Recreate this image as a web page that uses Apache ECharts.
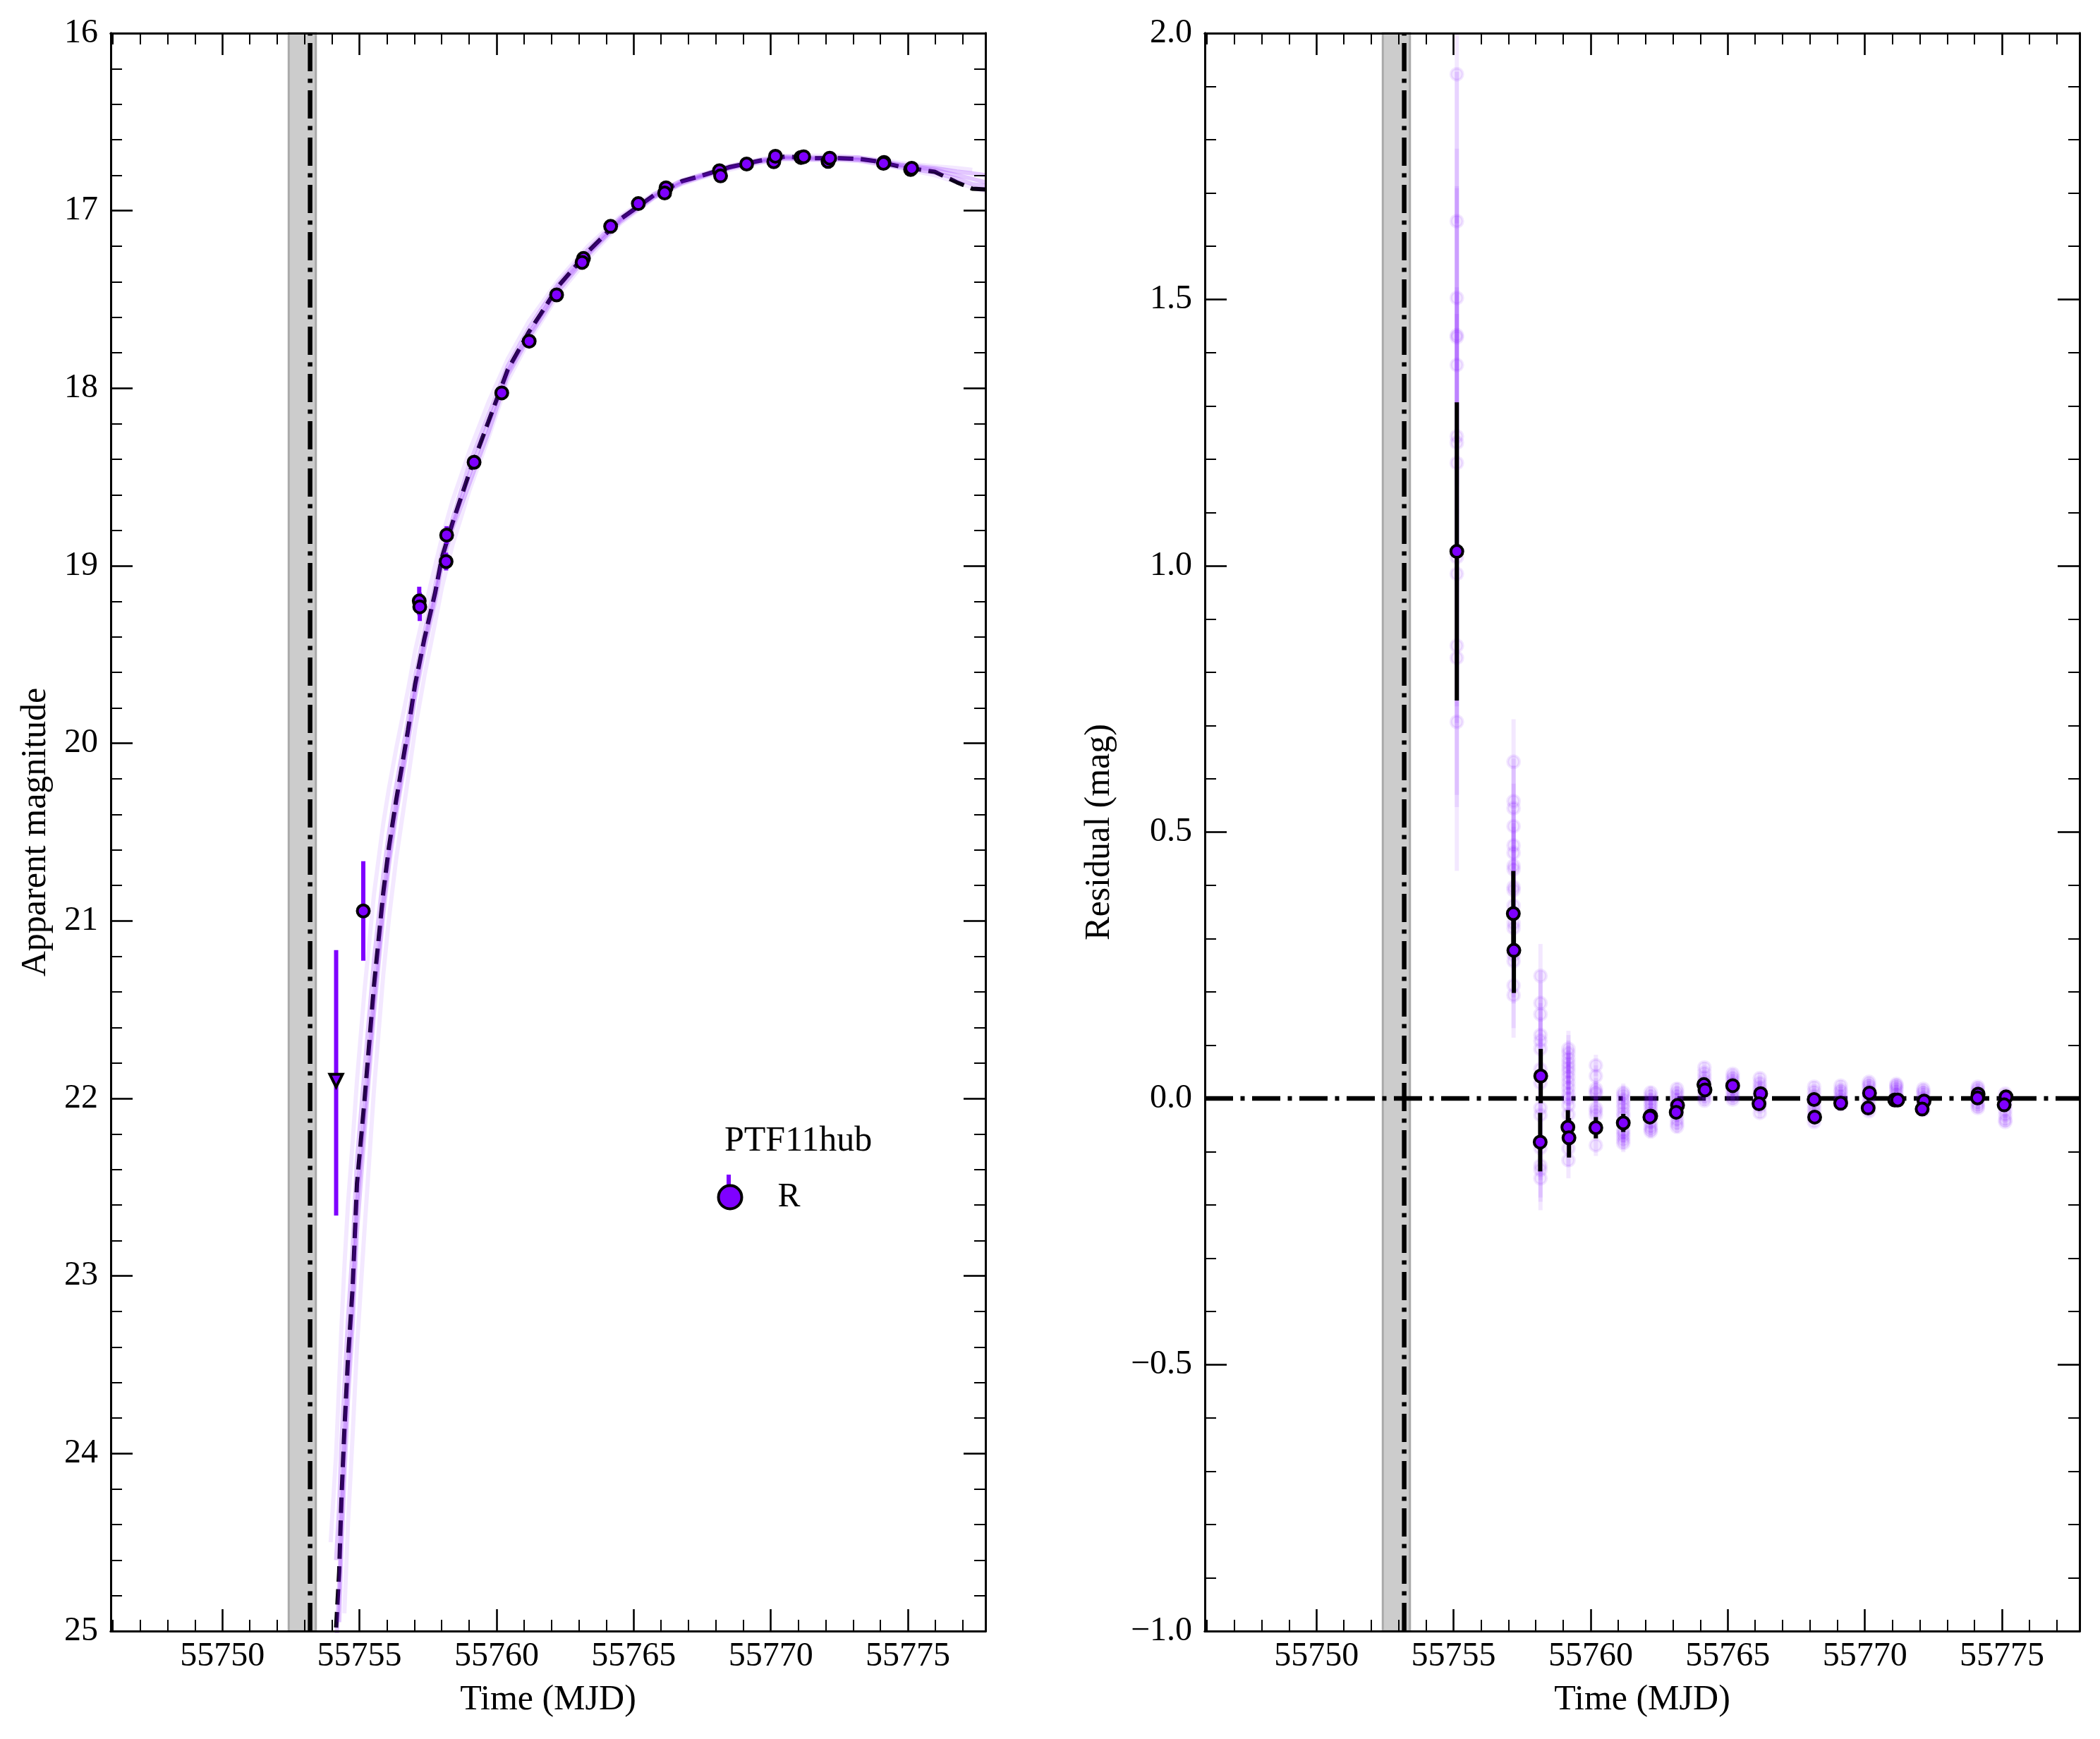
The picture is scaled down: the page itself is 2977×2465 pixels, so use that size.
<!DOCTYPE html>
<html>
<head>
<meta charset="utf-8">
<title>PTF11hub</title>
<script src="https://cdn.jsdelivr.net/npm/echarts@6/dist/echarts.min.js"></script>
<style>
  html, body { margin: 0; padding: 0; background: #fff; }
  #chart { width: 2977px; height: 2465px; }
</style>
</head>
<body>
<div id="chart"></div>
<script>
const xMajorTicks = [55750, 55755, 55760, 55765, 55770, 55775]
const xMinorTicks = [55746, 55747, 55748, 55749, 55751, 55752, 55753, 55754, 55756, 55757, 55758, 55759, 55761, 55762, 55763, 55764, 55766, 55767, 55768, 55769, 55771, 55772, 55773, 55774, 55776, 55777]
const magMajorTicks = [16, 17, 18, 19, 20, 21, 22, 23, 24, 25]
const magMinorTicks = [16.2, 16.4, 16.6, 16.8, 17.2, 17.4, 17.6, 17.8, 18.2, 18.4, 18.6, 18.8, 19.2, 19.4, 19.6, 19.8, 20.2, 20.4, 20.6, 20.8, 21.2, 21.4, 21.6, 21.8, 22.2, 22.4, 22.6, 22.8, 23.2, 23.4, 23.6, 23.8, 24.2, 24.4, 24.6, 24.8]
const resMajorTicks = [-1, -0.5, 0, 0.5, 1, 1.5, 2]
const resMinorTicks = [-0.9, -0.8, -0.7, -0.6, -0.4, -0.3, -0.2, -0.1, 0.1, 0.2, 0.3, 0.4, 0.6, 0.7, 0.8, 0.9, 1.1, 1.2, 1.3, 1.4, 1.6, 1.7, 1.8, 1.9]

const xMin = 55745.93
const xMax = 55777.83
const bandStart = 55752.42
const bandEnd = 55753.41
const explosionDay = 55753.2

// photometry: day, magnitude, error
const photDays = [55755.14, 55757.18, 55757.2, 55758.18, 55758.16, 55759.18, 55760.19, 55761.19, 55762.19, 55763.17, 55763.12, 55764.16, 55765.17, 55766.18, 55766.13, 55768.13, 55768.17, 55769.12, 55770.11, 55770.17, 55771.1, 55771.2, 55772.09, 55772.15, 55774.13, 55774.11, 55775.1, 55775.14]
const photMags = [20.944, 19.198, 19.231, 18.827, 18.976, 18.417, 18.026, 17.735, 17.474, 17.269, 17.291, 17.088, 16.96, 16.871, 16.9, 16.775, 16.804, 16.737, 16.724, 16.693, 16.7, 16.696, 16.722, 16.704, 16.728, 16.733, 16.768, 16.761]
const photErrs = [0.28, 0.08, 0.08, 0.05, 0.05, 0.03, 0.02, 0.017, 0.012, 0.012, 0.012, 0.01, 0.01, 0.01, 0.01, 0.01, 0.01, 0.01, 0.01, 0.01, 0.01, 0.01, 0.01, 0.01, 0.01, 0.01, 0.01, 0.01]

// upper limit point
const limitDay = 55754.15
const limitMag = 21.9
const limitLow = 21.165
const limitHigh = 22.66

// residuals, same epochs as the first point on
const resDays = [55755.12, 55757.18, 55757.2, 55758.18, 55758.16, 55759.17, 55759.21, 55760.19, 55761.19, 55762.19, 55762.16, 55763.17, 55763.12, 55764.13, 55764.17, 55765.18, 55766.2, 55766.14, 55768.15, 55768.17, 55769.12, 55770.17, 55770.12, 55771.09, 55771.2, 55772.16, 55772.09, 55774.13, 55774.11, 55775.15, 55775.08]
const resValues = [1.027, 0.347, 0.278, 0.042, -0.082, -0.054, -0.074, -0.055, -0.046, -0.033, -0.035, -0.013, -0.026, 0.026, 0.016, 0.024, 0.009, -0.01, -0.002, -0.035, -0.009, 0.01, -0.018, -0.003, -0.003, -0.005, -0.02, 0.008, 0.001, 0.003, -0.012]
const resErrs = [0.28, 0.08, 0.08, 0.051, 0.055, 0.032, 0.037, 0.02, 0.017, 0.012, 0.012, 0.012, 0.012, 0.01, 0.01, 0.01, 0.01, 0.01, 0.01, 0.01, 0.01, 0.01, 0.01, 0.01, 0.01, 0.01, 0.01, 0.01, 0.01, 0.01, 0.01]

// residuals of the posterior samples, one row per epoch
const ghostDays = [55755.12, 55757.19, 55758.17, 55759.19, 55760.19, 55761.19, 55762.19, 55763.15, 55764.15, 55765.18, 55766.17, 55768.15, 55769.12, 55770.15, 55771.15, 55772.13, 55774.12, 55775.12]
const ghostErrs = [0.28, 0.08, 0.06, 0.034, 0.02, 0.017, 0.012, 0.012, 0.01, 0.01, 0.01, 0.01, 0.01, 0.01, 0.01, 0.01, 0.01, 0.01]
const ghostValues = [
  [1.923, 1.647, 1.503, 1.433, 1.429, 1.377, 1.243, 1.231, 1.193, 1.016, 0.985, 0.85, 0.827, 0.707],
  [0.632, 0.558, 0.545, 0.511, 0.475, 0.461, 0.437, 0.43, 0.397, 0.391, 0.362, 0.329, 0.32, 0.27, 0.258, 0.212, 0.194],
  [0.23, 0.179, 0.158, 0.119, 0.108, 0.093, 0.055, 0.029, -0.018, -0.031, -0.093, -0.126, -0.134, -0.15],
  [0.093, 0.085, 0.075, 0.066, 0.058, 0.05, 0.04, 0.03, 0.02, 0.009, 0, -0.013, -0.03, -0.094, -0.116],
  [0.062, 0.042, 0.018, 0.012, 0.009, -0.018, -0.024, -0.031, -0.088],
  [0.011, 0.006, -0.002, -0.01, -0.018, -0.027, -0.034, -0.06, -0.065, -0.071, -0.078, -0.084],
  [0.011, 0.005, -0.002, -0.008, -0.013, -0.02, -0.027, -0.034, -0.045, -0.053, -0.058, -0.062],
  [0.018, 0.011, 0.005, -0.002, -0.009, -0.015, -0.022, -0.03, -0.04, -0.047, -0.053],
  [0.058, 0.048, 0.04, 0.033, 0.026, 0.018, 0.009, 0.002, -0.004],
  [0.046, 0.04, 0.035, 0.029, 0.022, 0.016, 0.009, 0.003, -0.002],
  [0.038, 0.029, 0.022, 0.016, 0.009, 0.003, -0.004, -0.015, -0.027],
  [0.022, 0.013, 0.005, -0.004, -0.012, -0.02, -0.027, -0.036, -0.044],
  [0.024, 0.016, 0.012, 0.005, 0, -0.005, -0.011],
  [0.031, 0.026, 0.022, 0.015, 0.009, 0.002, -0.009, -0.017, -0.024],
  [0.027, 0.024, 0.02, 0.015, 0.009, 0.004, -0.004],
  [0.018, 0.013, 0.009, 0.002, -0.004, -0.012, -0.022],
  [0.022, 0.018, 0.013, 0.006, 0, -0.009, -0.014, -0.018],
  [0.009, 0.002, -0.006, -0.013, -0.022, -0.031, -0.04, -0.044]
]

// model curves
const modelDays = [55753.75, 55753.95, 55754.15, 55754.26, 55754.34, 55754.45, 55754.58, 55754.75, 55754.91, 55755.18, 55755.53, 55755.87, 55756.08, 55756.34, 55756.77, 55757.03, 55757.37, 55757.76, 55758.01, 55758.4, 55759, 55759.7, 55760.41, 55761.19, 55761.61, 55762.26, 55763.33, 55764.53, 55765.73, 55766.76, 55767.36, 55768.48, 55769.6, 55770.53, 55771.48, 55772.5, 55773.2, 55773.79, 55774.73, 55775.98, 55776.79, 55777.35, 55777.83]
const bestFit = [null, null, 24.98, 24.667, 24.27, 23.87, 23.474, 23.07, 22.48, 22.02, 21.365, 20.84, 20.58, 20.32, 19.927, 19.668, 19.41, 19.152, 18.953, 18.755, 18.48, 18.19, 17.895, 17.68, 17.582, 17.424, 17.232, 17.046, 16.914, 16.834, 16.808, 16.755, 16.718, 16.695, 16.704, 16.704, 16.708, 16.72, 16.752, 16.781, 16.84, 16.876, 16.88]
const sampleA = [null, 24.5, 24, 23.6, 23.3, 22.95, 22.6, 22.25, 21.9, 21.4, 20.85, 20.45, 20.25, 20.03, 19.7, 19.48, 19.25, 19, 18.84, 18.63, 18.36, 18.08, 17.835, 17.62, 17.53, 17.39, 17.2, 17.03, 16.905, 16.83, 16.8, 16.75, 16.71, 16.69, 16.69, 16.69, 16.7, 16.71, 16.73, 16.75, 16.76, 16.77, null]
const sampleB = [null, null, 24.6, 24.3, 23.95, 23.62, 23.25, 22.85, 22.35, 21.85, 21.22, 20.74, 20.5, 20.24, 19.87, 19.62, 19.37, 19.11, 18.93, 18.73, 18.43, 18.15, 17.875, 17.66, 17.56, 17.41, 17.22, 17.04, 16.91, 16.83, 16.805, 16.75, 16.715, 16.695, 16.7, 16.7, 16.7, 16.715, 16.74, 16.76, 16.78, 16.79, 16.8]
const sampleC = [null, null, 25.1, 24.75, 24.4, 23.97, 23.58, 23.15, 22.6, 22.1, 21.45, 20.9, 20.63, 20.36, 19.96, 19.7, 19.43, 19.17, 18.97, 18.77, 18.49, 18.2, 17.905, 17.69, 17.59, 17.43, 17.24, 17.05, 16.92, 16.84, 16.81, 16.76, 16.72, 16.7, 16.705, 16.705, 16.71, 16.72, 16.745, 16.77, 16.8, 16.82, 16.84]
const sampleD = [null, null, null, 24.95, 24.55, 24.13, 23.7, 23.28, 22.75, 22.2, 21.52, 20.96, 20.68, 20.4, 20, 19.74, 19.47, 19.2, 19, 18.79, 18.54, 18.25, 17.925, 17.71, 17.61, 17.45, 17.25, 17.06, 16.925, 16.845, 16.815, 16.76, 16.725, 16.705, 16.71, 16.71, 16.715, 16.73, 16.755, 16.785, 16.82, 16.85, 16.86]
const sampleE = [null, null, null, null, null, 24.9, 24.4, 23.9, 23.4, 22.75, 21.95, 21.3, 20.98, 20.65, 20.2, 19.92, 19.62, 19.32, 19.12, 18.88, 18.58, 18.28, 17.955, 17.73, 17.63, 17.47, 17.27, 17.07, 16.93, 16.85, 16.82, 16.77, 16.73, 16.71, 16.715, 16.715, 16.72, 16.735, 16.76, 16.8, 16.84, 16.87, 16.89]

const purple = '#7f00ff'
const fontName = 'Liberation Serif'
const dashDot = [40, 10.5, 6, 10.5]

const chart = echarts.init(document.getElementById('chart'), null, { renderer: 'canvas' })

// one axis, major or minor ticks only, on one side of a grid
function tickAxis (gridIndex, position, min, max, ticks, length, width, extra) {
  return Object.assign({
    type: 'value',
    gridIndex,
    position,
    min,
    max,
    z: 10,
    splitLine: { show: false },
    axisLine: { show: true, onZero: false, lineStyle: { color: '#000', width: 3 } },
    axisTick: { show: true, inside: true, length, customValues: ticks, lineStyle: { color: '#000', width } },
    axisLabel: { show: false }
  }, extra)
}

// bottom major, bottom minor, top major, top minor
function xAxes (gridIndex) {
  const labelled = {
    name: 'Time (MJD)',
    nameLocation: 'middle',
    nameGap: 73,
    nameTextStyle: { fontFamily: fontName, fontSize: 50, color: '#000' },
    axisLabel: {
      show: true,
      customValues: xMajorTicks,
      margin: 12,
      fontFamily: fontName,
      fontSize: 48,
      color: '#000',
      formatter: v => String(v)
    }
  }
  return [
    tickAxis(gridIndex, 'bottom', xMin, xMax, xMajorTicks, 31, 2.6, labelled),
    tickAxis(gridIndex, 'bottom', xMin, xMax, xMinorTicks, 16, 2),
    tickAxis(gridIndex, 'top', xMin, xMax, xMajorTicks, 31, 2.6),
    tickAxis(gridIndex, 'top', xMin, xMax, xMinorTicks, 16, 2)
  ]
}

// left major, left minor, right major, right minor
function yAxes (gridIndex, min, max, inverse, major, minor, name, nameGap, format) {
  const labelled = {
    inverse,
    name,
    nameLocation: 'middle',
    nameGap,
    nameTextStyle: { fontFamily: fontName, fontSize: 50, color: '#000' },
    axisLabel: {
      show: true,
      customValues: major,
      margin: 18,
      fontFamily: fontName,
      fontSize: 48,
      color: '#000',
      formatter: format
    }
  }
  return [
    tickAxis(gridIndex, 'left', min, max, major, 31, 2.6, labelled),
    tickAxis(gridIndex, 'left', min, max, minor, 16, 2, { inverse }),
    tickAxis(gridIndex, 'right', min, max, major, 31, 2.6, { inverse }),
    tickAxis(gridIndex, 'right', min, max, minor, 16, 2, { inverse })
  ]
}

// vertical error bars, data rows are [day, low, high]
function errorBars (panel, rows, color, z) {
  return {
    type: 'custom',
    xAxisIndex: panel * 4,
    yAxisIndex: panel * 4,
    clip: true,
    silent: true,
    z,
    encode: { x: 0, y: [1, 2] },
    data: rows,
    renderItem (params, api) {
      const a = api.coord([api.value(0), api.value(1)])
      const b = api.coord([api.value(0), api.value(2)])
      return {
        type: 'line',
        shape: { x1: a[0], y1: a[1], x2: b[0], y2: b[1] },
        style: { stroke: color, lineWidth: 6, fill: null }
      }
    }
  }
}

function modelLine (values, style, z) {
  return {
    type: 'line',
    xAxisIndex: 0,
    yAxisIndex: 0,
    showSymbol: false,
    silent: true,
    z,
    lineStyle: style,
    data: modelDays.map((d, i) => [d, values[i]])
  }
}

// gray band plus the dash-dot line; the line runs from the lower axis end upward
function bandSeries (panel, low, high) {
  return {
    type: 'line',
    xAxisIndex: panel * 4,
    yAxisIndex: panel * 4,
    showSymbol: false,
    silent: true,
    z: 2,
    lineStyle: { color: '#000', width: 6.5, type: dashDot },
    data: [[explosionDay, low], [explosionDay, high]],
    markArea: {
      silent: true,
      z: 1,
      itemStyle: { color: '#cccccc', borderColor: '#aaaaaa', borderWidth: 3 },
      data: [[{ xAxis: bandStart }, { xAxis: bandEnd }]]
    }
  }
}

const innerStyle = { color: 'rgba(127,0,255,0.22)', width: 6 }
const outerStyle = { color: 'rgba(127,0,255,0.09)', width: 6 }

const series = [
  bandSeries(0, 25, 16),
  modelLine(bestFit, { color: '#000', width: 6, type: [22, 10.5] }, 3),
  modelLine(sampleA, outerStyle, 4),
  modelLine(sampleB, innerStyle, 4),
  modelLine(sampleC, innerStyle, 4),
  modelLine(sampleD, innerStyle, 4),
  modelLine(sampleE, outerStyle, 4),
  errorBars(0, photDays.map((d, i) => [d, photMags[i] - photErrs[i], photMags[i] + photErrs[i]]), purple, 5),
  errorBars(0, [[limitDay, limitLow, limitHigh]], purple, 5),
  {
    name: 'R',
    type: 'scatter',
    xAxisIndex: 0,
    yAxisIndex: 0,
    symbol: 'circle',
    symbolSize: 17,
    silent: true,
    z: 6,
    itemStyle: { color: purple, borderColor: '#000', borderWidth: 4, opacity: 1 },
    data: photDays.map((d, i) => [d, photMags[i]])
  },
  {
    type: 'scatter',
    xAxisIndex: 0,
    yAxisIndex: 0,
    symbol: 'triangle',
    symbolRotate: 180,
    symbolSize: 18,
    silent: true,
    z: 6,
    itemStyle: { color: purple, borderColor: '#000', borderWidth: 4, opacity: 1 },
    data: [[limitDay, limitMag]]
  },
  bandSeries(1, -1, 2),
  {
    type: 'line',
    xAxisIndex: 4,
    yAxisIndex: 4,
    showSymbol: false,
    silent: true,
    z: 3,
    lineStyle: { color: '#000', width: 6.5, type: dashDot },
    data: [[xMin, 0], [xMax, 0]]
  },
  errorBars(1, ghostDays.flatMap((d, i) => ghostValues[i].map(v => [d, v - ghostErrs[i], v + ghostErrs[i]])), 'rgba(127,0,255,0.09)', 4),
  {
    type: 'scatter',
    xAxisIndex: 4,
    yAxisIndex: 4,
    symbol: 'circle',
    symbolSize: 17,
    silent: true,
    z: 4,
    itemStyle: { color: 'rgba(127,0,255,0.09)', borderColor: 'rgba(127,0,255,0.09)', borderWidth: 4, opacity: 1 },
    data: ghostDays.flatMap((d, i) => ghostValues[i].map(v => [d, v]))
  },
  errorBars(1, resDays.map((d, i) => [d, resValues[i] - resErrs[i], resValues[i] + resErrs[i]]), '#000', 5),
  {
    type: 'scatter',
    xAxisIndex: 4,
    yAxisIndex: 4,
    symbol: 'circle',
    symbolSize: 17,
    silent: true,
    z: 6,
    itemStyle: { color: purple, borderColor: '#000', borderWidth: 4, opacity: 1 },
    data: resDays.map((d, i) => [d, resValues[i]])
  }
]

chart.setOption({
  animation: false,
  backgroundColor: '#fff',
  textStyle: { fontFamily: fontName },
  grid: [
    { left: 157, top: 47, width: 1240, height: 2265 },
    { left: 1708, top: 47, width: 1240, height: 2265 }
  ],
  xAxis: [...xAxes(0), ...xAxes(1)],
  yAxis: [
    ...yAxes(0, 16, 25, true, magMajorTicks, magMinorTicks, 'Apparent magnitude', 81, v => String(v)),
    ...yAxes(1, -1, 2, false, resMajorTicks, resMinorTicks, 'Residual (mag)', 124, v => v.toFixed(1).replace('-', '\u2212'))
  ],
  title: {
    text: 'PTF11hub',
    left: 1027,
    top: 1593,
    padding: 0,
    textStyle: { fontFamily: fontName, fontSize: 50, fontWeight: 'normal', color: '#000' }
  },
  legend: {
    data: [{ name: 'R', icon: 'circle' }],
    left: 1016.5,
    top: 1673,
    padding: 0,
    itemWidth: 33,
    itemHeight: 33,
    symbolKeepAspect: true,
    selectedMode: false,
    itemStyle: { color: purple, borderColor: '#000', borderWidth: 4 },
    textStyle: { fontFamily: fontName, fontSize: 48, color: '#000', padding: [0, 0, 0, 46] }
  },
  // the small error bar behind the legend marker
  graphic: [{
    type: 'rect',
    z: 1,
    shape: { x: 1030, y: 1665, width: 6, height: 50 },
    style: { fill: purple }
  }],
  series
})
</script>
</body>
</html>
